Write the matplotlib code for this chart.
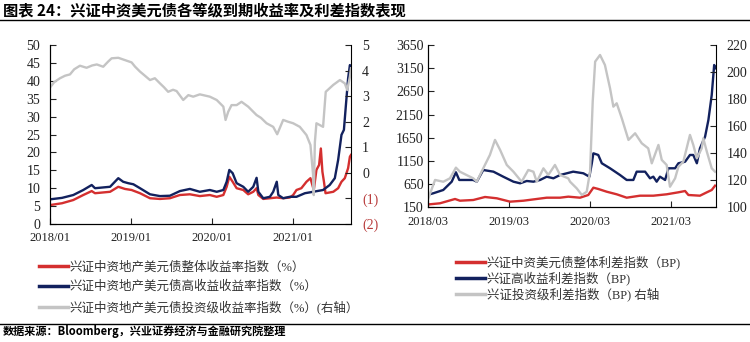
import pandas as pd
import matplotlib
matplotlib.use('Agg')
import matplotlib.pyplot as plt
import matplotlib.dates as mdates
from matplotlib.lines import Line2D

plt.rcParams['font.family'] = ['Liberation Serif', 'Noto Sans CJK SC']

RED = '#d42f2f'
NAVY = '#12215e'
GRAY = '#c4c4c4'
LW = 1.7

# === left chart: yields (%) ===
all_yield_dates = ['2018-01-02', '2018-02-24', '2018-04-16', '2018-05-31', '2018-07-08', '2018-07-23',
                   '2018-09-29', '2018-11-05', '2018-12-05', '2019-01-04', '2019-02-11', '2019-03-28',
                   '2019-05-12', '2019-06-26', '2019-08-10', '2019-09-24', '2019-11-08', '2019-12-23',
                   '2020-01-23', '2020-02-22', '2020-03-08', '2020-03-20', '2020-04-04', '2020-04-22',
                   '2020-05-22', '2020-06-13', '2020-07-06', '2020-07-21', '2020-07-29', '2020-08-20',
                   '2020-09-19', '2020-10-20', '2020-11-18', '2020-12-18', '2021-01-02', '2021-01-17',
                   '2021-02-08', '2021-03-03', '2021-03-21', '2021-04-05', '2021-04-17', '2021-04-29',
                   '2021-05-07', '2021-05-14', '2021-05-21', '2021-05-28', '2021-07-02', '2021-07-24',
                   '2021-08-08', '2021-08-23', '2021-09-07', '2021-09-15', '2021-09-20']
all_yield = [5.3, 5.8, 6.7, 8.1, 9.2, 8.6,
             9.0, 10.4, 9.8, 9.5, 8.6, 7.2,
             7.0, 7.2, 8.1, 8.3, 7.8, 8.1,
             7.6, 8.1, 10.4, 13.2, 11.8, 10.0,
             9.5, 8.3, 9.0, 10.0, 8.1, 7.0,
             7.2, 7.4, 7.2, 7.4, 8.1, 9.5,
             10.0, 11.8, 12.8, 9.5, 15.1, 16.5,
             21.1, 14.6, 11.8, 8.6, 9.0, 10.0,
             11.8, 12.8, 15.6, 18.8, 19.3]

hy_yield_dates = ['2018-01-02', '2018-02-24', '2018-04-16', '2018-05-31', '2018-07-08', '2018-07-23',
                  '2018-09-29', '2018-11-05', '2018-11-27', '2018-12-20', '2019-01-12', '2019-02-11',
                  '2019-03-28', '2019-05-12', '2019-06-26', '2019-08-10', '2019-09-24', '2019-11-08',
                  '2019-12-23', '2020-01-23', '2020-02-22', '2020-03-08', '2020-03-20', '2020-04-04',
                  '2020-04-22', '2020-05-22', '2020-06-13', '2020-07-06', '2020-07-21', '2020-07-29',
                  '2020-08-20', '2020-09-19', '2020-10-04', '2020-10-20', '2020-10-27', '2020-11-18',
                  '2020-12-18', '2021-01-17', '2021-02-24', '2021-04-02', '2021-05-17', '2021-06-16',
                  '2021-07-09', '2021-07-24', '2021-08-08', '2021-08-19', '2021-08-28', '2021-09-07',
                  '2021-09-15', '2021-09-20']
hy_yield = [6.9, 7.3, 8.1, 9.5, 10.9, 10.0,
            10.4, 12.8, 11.8, 11.4, 11.1, 10.0,
            8.3, 7.8, 7.9, 9.2, 9.8, 9.0,
            9.5, 9.0, 9.5, 11.8, 15.1, 14.2,
            11.4, 10.4, 9.0, 10.4, 12.9, 9.0,
            7.2, 7.6, 9.0, 11.8, 8.1, 7.2,
            7.6, 7.6, 8.6, 9.0, 9.5, 10.9,
            12.8, 17.9, 24.9, 26.3, 33.2, 40.7,
            44.4, 43.9]

ig_yield_dates = ['2018-01-02', '2018-01-20', '2018-02-15', '2018-03-10', '2018-04-01', '2018-04-20',
                  '2018-05-16', '2018-06-15', '2018-07-10', '2018-07-31', '2018-08-29', '2018-09-20',
                  '2018-10-06', '2018-11-05', '2018-12-05', '2019-01-04', '2019-01-20', '2019-02-11',
                  '2019-03-05', '2019-03-28', '2019-04-19', '2019-05-12', '2019-05-30', '2019-06-18',
                  '2019-07-10', '2019-07-26', '2019-08-25', '2019-09-17', '2019-10-09', '2019-11-08',
                  '2019-12-23', '2020-01-23', '2020-02-22', '2020-03-03', '2020-03-15', '2020-03-30',
                  '2020-04-22', '2020-05-14', '2020-06-13', '2020-07-21', '2020-08-10', '2020-09-04',
                  '2020-10-04', '2020-10-22', '2020-11-18', '2020-12-10', '2021-01-02', '2021-02-01',
                  '2021-03-03', '2021-03-21', '2021-04-02', '2021-04-05', '2021-04-10', '2021-04-17',
                  '2021-05-17', '2021-05-29', '2021-07-02', '2021-08-01', '2021-08-23', '2021-09-03',
                  '2021-09-15', '2021-09-20']
ig_yield = [3.35, 3.55, 3.70, 3.80, 3.85, 4.05,
            4.19, 4.11, 4.20, 4.24, 4.15, 4.35,
            4.48, 4.50, 4.41, 4.32, 4.15, 3.96,
            3.80, 3.63, 3.70, 3.50, 3.35, 3.17,
            3.25, 3.20, 2.85, 3.04, 2.98, 3.07,
            2.98, 2.85, 2.59, 2.07, 2.39, 2.65,
            2.65, 2.78, 2.59, 2.26, 2.15, 1.94,
            1.80, 1.51, 2.07, 2.00, 1.94, 1.80,
            1.48, 1.09, -0.08, -0.87, 1.20, 1.94,
            1.80, 3.17, 3.44, 3.63, 3.50, 3.24,
            3.76, 4.09]

# === right chart: spreads (BP) ===
all_spread_dates = ['2018-03-01', '2018-04-25', '2018-07-02', '2018-07-24', '2018-09-22', '2018-11-14',
                    '2019-01-06', '2019-03-07', '2019-05-06', '2019-07-05', '2019-08-19', '2019-10-18',
                    '2019-11-24', '2020-01-16', '2020-02-22', '2020-03-16', '2020-04-07', '2020-05-15',
                    '2020-06-29', '2020-08-13', '2020-10-12', '2020-12-11', '2021-02-09', '2021-04-03',
                    '2021-05-03', '2021-05-18', '2021-07-09', '2021-08-09', '2021-08-31', '2021-09-15']
all_spread = [210, 236, 329, 292, 307, 372,
              344, 271, 292, 329, 357, 357,
              379, 357, 415, 573, 545, 486,
              430, 357, 400, 400, 430, 473,
              501, 415, 400, 473, 523, 616]

hy_spread_dates = ['2018-03-01', '2018-03-26', '2018-05-10', '2018-06-17', '2018-07-06', '2018-07-21',
                   '2018-09-22', '2018-10-08', '2018-11-06', '2018-12-22', '2019-02-04', '2019-03-22',
                   '2019-04-21', '2019-05-21', '2019-06-20', '2019-07-20', '2019-08-19', '2019-09-18',
                   '2019-10-18', '2019-12-16', '2020-01-31', '2020-02-27', '2020-03-09', '2020-03-16',
                   '2020-04-07', '2020-04-23', '2020-05-30', '2020-07-14', '2020-08-13', '2020-09-12',
                   '2020-09-27', '2020-11-04', '2020-11-26', '2020-12-11', '2020-12-26', '2021-01-10',
                   '2021-02-02', '2021-02-17', '2021-03-19', '2021-04-03', '2021-05-03', '2021-05-25',
                   '2021-06-09', '2021-06-25', '2021-07-09', '2021-08-01', '2021-08-16', '2021-08-31',
                   '2021-09-11', '2021-09-17']
hy_spread = [420, 452, 523, 702, 905, 739,
             739, 702, 954, 918, 810, 702,
             667, 717, 702, 739, 810, 775,
             846, 918, 883, 810, 1099, 1314,
             1278, 1099, 991, 846, 739, 739,
             918, 918, 775, 810, 702, 810,
             739, 991, 991, 1099, 1133, 1278,
             1278, 1099, 1422, 1672, 2032, 2571,
             3218, 3147]

ig_spread_dates = ['2018-03-01', '2018-04-03', '2018-05-10', '2018-06-09', '2018-07-06', '2018-07-24',
                   '2018-09-22', '2018-10-08', '2018-11-06', '2018-12-06', '2018-12-29', '2019-01-21',
                   '2019-02-20', '2019-03-22', '2019-04-28', '2019-05-28', '2019-06-20', '2019-07-05',
                   '2019-08-04', '2019-08-26', '2019-09-25', '2019-10-18', '2019-11-24', '2019-12-02',
                   '2020-01-01', '2020-01-24', '2020-02-15', '2020-03-01', '2020-03-13', '2020-03-24',
                   '2020-04-15', '2020-05-07', '2020-05-30', '2020-06-14', '2020-06-29', '2020-07-22',
                   '2020-08-21', '2020-09-20', '2020-10-20', '2020-11-18', '2020-12-04', '2021-01-03',
                   '2021-01-18', '2021-02-09', '2021-02-24', '2021-03-19', '2021-04-03', '2021-04-25',
                   '2021-05-25', '2021-06-09', '2021-06-25', '2021-07-17', '2021-07-24', '2021-08-09',
                   '2021-08-31', '2021-09-15']
ig_spread = [105.4, 120.2, 118.9, 121.4, 129.3, 126.3,
             121.4, 118.9, 128.8, 138.7, 149.8, 142.4,
             131.3, 126.3, 118.9, 127.6, 126.3, 118.9,
             128.8, 123.9, 131.3, 123.9, 121.4, 118.9,
             114.0, 109.1, 111.5, 126.3, 178.1, 207.7,
             212.6, 205.2, 188.0, 174.4, 176.9, 165.8,
             149.8, 154.7, 147.3, 143.6, 132.5, 146.1,
             135.0, 131.3, 115.2, 121.4, 130.0, 133.7,
             153.5, 146.1, 136.2, 143.6, 151.0, 141.1,
             128.8, 126.3]

left_labels = ['兴证中资地产美元债整体收益率指数（%）',
               '兴证中资地产美元债高收益收益率指数（%）',
               '兴证中资地产美元债投资级收益率指数（%）(右轴）']
right_labels = ['兴证中资美元债整体利差指数（BP)',
                '兴证高收益利差指数（BP)',
                '兴证投资级利差指数（BP) 右轴']

fig = plt.figure(figsize=(7.5, 3.42), dpi=100)


def style(ax, ax2, xticks, xlim):
    for a in (ax, ax2):
        a.spines['top'].set_visible(False)
        a.tick_params(direction='in', length=4, width=0.8, colors='#222222')
    ax.spines['right'].set_visible(False)
    ax.set_xticks(pd.to_datetime(xticks))
    ax.xaxis.set_major_formatter(mdates.DateFormatter('%Y/%m'))
    ax.set_xlim(pd.to_datetime(xlim[0]), pd.to_datetime(xlim[1]))
    ax.tick_params(axis='x', labelsize=9, pad=6)


# === left ===
axL = fig.add_axes([0.0667, 0.345, 0.4013, 0.5234])
axL2 = axL.twinx()
axL.plot(pd.to_datetime(all_yield_dates), all_yield, color=RED, lw=LW)
axL.plot(pd.to_datetime(hy_yield_dates), hy_yield, color=NAVY, lw=LW)
axL2.plot(pd.to_datetime(ig_yield_dates), ig_yield, color=GRAY, lw=LW)
axL.set_ylim(0, 50)
axL.set_yticks(range(0, 51, 5))
axL2.set_ylim(-2, 5)
r_ticks = list(range(-2, 6))
axL2.set_yticks(r_ticks, labels=[f'({-t})' if t < 0 else str(t) for t in r_ticks])
style(axL, axL2, ['2018-01-01', '2019-01-01', '2020-01-01', '2021-01-01'], ['2018-01-01', '2021-09-20'])
axL.tick_params(axis='y', labelsize=10, pad=7)
axL2.tick_params(axis='y', labelsize=10, pad=8)
for lab in axL2.get_yticklabels():
    if lab.get_text().startswith('('):
        lab.set_color('#b83a3a')

# === right ===
axR = fig.add_axes([0.5703, 0.3939, 0.384, 0.4746])
axR2 = axR.twinx()
axR.plot(pd.to_datetime(all_spread_dates), all_spread, color=RED, lw=LW)
axR.plot(pd.to_datetime(hy_spread_dates), hy_spread, color=NAVY, lw=LW)
axR2.plot(pd.to_datetime(ig_spread_dates), ig_spread, color=GRAY, lw=LW)
axR.set_ylim(150, 3650)
axR.set_yticks(range(150, 3651, 500))
axR2.set_ylim(100, 220)
axR2.set_yticks(range(100, 221, 20))
style(axR, axR2, ['2018-03-01', '2019-03-01', '2020-03-01', '2021-03-01'], ['2018-03-01', '2021-09-18'])
axR.tick_params(axis='y', labelsize=10, pad=3)
axR2.tick_params(axis='y', labelsize=10, pad=8)

# === legends ===
cols = [RED, NAVY, GRAY]
hL = [Line2D([], [], color=c, lw=2.5) for c in cols]
fig.legend(hL, left_labels, loc='upper left', bbox_to_anchor=(0.052, 0.237), frameon=False,
           fontsize=9, handlelength=2.3, handletextpad=0.15, labelspacing=0.6,
           borderpad=0, borderaxespad=0, labelcolor='#333333')
fig.legend(hL, right_labels, loc='upper left', bbox_to_anchor=(0.608, 0.254), frameon=False,
           fontsize=9, handlelength=2.3, handletextpad=0.15, labelspacing=0.2,
           borderpad=0, borderaxespad=0, labelcolor='#333333')

# === title, source, separator lines ===
fig.text(0.004, 1 - 10 / 342, '图表 24：兴证中资美元债各等级到期收益率及利差指数表现',
         family=['Noto Sans CJK SC'], fontsize=11, fontweight='bold', va='center')
fig.add_artist(Line2D([0, 1], [1 - 20 / 342] * 2, color='black', lw=1, transform=fig.transFigure))
fig.add_artist(Line2D([0, 1], [1 - 324 / 342] * 2, color='black', lw=1, transform=fig.transFigure))
fig.text(0.004, 1 - 332 / 342, '数据来源：Bloomberg，兴业证券经济与金融研究院整理',
         family=['Noto Sans CJK SC'], fontsize=8, fontweight='bold', va='center')

fig.savefig('out.png', dpi=100)
